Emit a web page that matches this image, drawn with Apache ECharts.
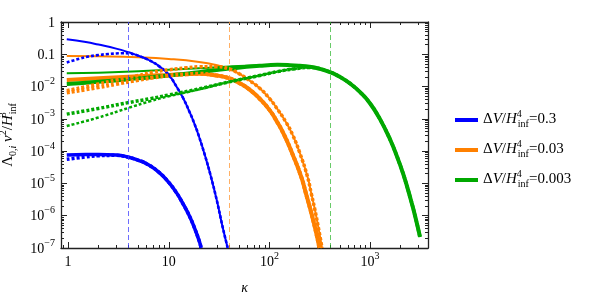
<!DOCTYPE html>
<html><head><meta charset="utf-8">
<script src="https://cdn.jsdelivr.net/npm/echarts@6/dist/echarts.min.js"></script>
<style>html,body{margin:0;padding:0;background:#fff}#c{width:590px;height:298px}</style>
</head><body><div id="c"></div>
<script>
// ---- ticks / labels ----
const xMajorTicks = [1, 10, 100, 1000];
const xTickLabels = ['1', '10', '10^2', '10^3'];
const xMinorTicks = [0.9, 2, 3, 4, 5, 6, 7, 8, 9, 20, 30, 40, 50, 60, 70, 80, 90, 200, 300, 400, 500, 600, 700, 800, 900, 2000, 3000];
const yMajorTicks = [1e-7, 1e-6, 1e-5, 1e-4, 1e-3, 1e-2, 0.1, 1];
const yTickLabels = ['10^-7', '10^-6', '10^-5', '10^-4', '10^-3', '10^-2', '0.1', '1'];
const yMinorMantissa = [2, 3, 4, 5, 6, 7, 8, 9];
const thresholdKappa = [4, 40, 400];
const legendValues = ['0.3', '0.03', '0.003'];

// ---- series data: [kappa, Lambda nu^2 / H^3] ----
const blueUpperSolid = [[0.97,0.29],[1.5,0.24],[2,0.2],[3,0.15],[4,0.115],[5,0.09],[6,0.072],[7,0.056],[8,0.043],[10,0.023],[12,0.0097],[14,0.0042],[16,0.0017],[18,7e-4],[20,2.8e-4],[23,7e-5],[26,1.8e-5],[30,3e-6],[34,5e-7],[38.5,1e-7]];
const blueUpperDotted = [[0.97,0.056],[1.3,0.073],[1.6,0.085],[2,0.095],[2.5,0.102],[3,0.106],[3.5,0.108],[4,0.107],[4.5,0.1],[5,0.09],[6,0.072],[7,0.056],[8,0.043],[10,0.023],[12,0.0097],[14,0.0042],[16,0.0017],[18,7e-4],[20,2.8e-4],[23,7e-5],[26,1.8e-5],[30,3e-6],[34,5e-7],[38.5,1e-7]];
const blueLowerSolid = [[0.97,7.6e-5],[1.5,7.9e-5],[2,7.9e-5],[3,7.6e-5],[4,6.5e-5],[5,5.2e-5],[6,4.1e-5],[8,2.2e-5],[10,1.07e-5],[12,5e-6],[14,2.2e-6],[16,1e-6],[18,4.2e-7],[20,1.7e-7],[21,1e-7]];
const blueLowerDotted = [[0.97,5.6e-5],[1.5,6.6e-5],[2,7.2e-5],[3,7.4e-5],[4,6.4e-5],[5,5.2e-5],[6,4.1e-5],[8,2.2e-5],[10,1.07e-5],[12,5e-6],[14,2.2e-6],[16,1e-6],[18,4.2e-7],[20,1.7e-7],[21,1e-7]];

const orangeUpperSolid = [[0.97,0.089],[2,0.087],[5,0.081],[10,0.072],[20,0.058],[30,0.046],[40,0.035],[50,0.025],[64,0.015],[80,0.0089],[100,0.0043],[120,0.002],[146,7.9e-4],[170,3.2e-4],[200,8.9e-5],[239,1.6e-5],[260,5e-6],[282,1.6e-6],[310,3.5e-7],[333,1e-7]];
const orangeUpperDotted = [[0.97,0.0075],[2,0.012],[3,0.016],[5,0.022],[7,0.028],[10,0.033],[15,0.038],[20,0.041],[30,0.041],[40,0.035],[50,0.025],[64,0.015],[80,0.0089],[100,0.0043],[120,0.002],[146,7.9e-4],[170,3.2e-4],[200,8.9e-5],[239,1.6e-5],[260,5e-6],[282,1.6e-6],[310,3.5e-7],[333,1e-7]];
const orangeLowerSolid = [[0.97,0.016],[2,0.018],[5,0.021],[10,0.023],[20,0.025],[30,0.022],[40,0.018],[50,0.013],[64,0.0079],[80,0.0042],[100,0.0019],[116,9.3e-4],[140,3.2e-4],[170,7.9e-5],[207,1.6e-5],[230,5e-6],[256,1.5e-6],[285,4e-7],[314,1e-7]];
const orangeLowerDotted = [[0.97,0.0065],[2,0.0095],[3,0.012],[5,0.016],[7,0.019],[10,0.022],[15,0.024],[20,0.025],[30,0.022],[40,0.018],[50,0.013],[64,0.0079],[80,0.0042],[100,0.0019],[116,9.3e-4],[140,3.2e-4],[170,7.9e-5],[207,1.6e-5],[230,5e-6],[256,1.5e-6],[285,4e-7],[314,1e-7]];

const greenUpperSolid = [[0.97,0.026],[2,0.027],[5,0.03],[10,0.033],[20,0.037],[40,0.042],[80,0.046],[120,0.047],[160,0.046],[200,0.044],[250,0.041],[300,0.037],[400,0.028],[500,0.02],[630,0.0125],[800,0.0066],[1000,0.003],[1250,0.001],[1580,2.3e-4],[1850,6.8e-5],[2140,1.9e-5],[2500,3.7e-6],[2800,9.8e-7],[3130,2.2e-7]];
const greenLowerSolid = [[0.97,0.012],[2,0.014],[5,0.018],[10,0.022],[20,0.028],[40,0.036],[80,0.044],[120,0.047],[160,0.046],[200,0.044],[250,0.041],[300,0.037],[400,0.028],[500,0.02],[630,0.0125],[800,0.0066],[1000,0.003],[1250,0.001],[1580,2.3e-4],[1850,6.8e-5],[2140,1.9e-5],[2500,3.7e-6],[2800,9.8e-7],[3130,2.2e-7]];
const greenUpperDotted = [[0.97,0.0014],[2,0.0021],[4,0.0032],[6.5,0.0042],[10,0.0055],[20,0.0085],[40,0.014],[80,0.022],[120,0.029],[172,0.035],[250,0.039],[300,0.037],[400,0.028],[500,0.02],[630,0.0125],[800,0.0066],[1000,0.003],[1250,0.001],[1580,2.3e-4],[1850,6.8e-5],[2140,1.9e-5],[2500,3.7e-6],[2800,9.8e-7],[3130,2.2e-7]];
const greenLowerDotted = [[0.97,0.0006],[2,0.0011],[4,0.0022],[6.5,0.0035],[10,0.005],[20,0.0082],[40,0.014],[80,0.022],[120,0.029],[172,0.035],[250,0.039],[300,0.037],[400,0.028],[500,0.02],[630,0.0125],[800,0.0066],[1000,0.003],[1250,0.001],[1580,2.3e-4],[1850,6.8e-5],[2140,1.9e-5],[2500,3.7e-6],[2800,9.8e-7],[3130,2.2e-7]];

// ---- styling ----
const BLUE = '#0000ff', ORANGE = '#ff8000', GREEN = '#00a800';
const DASH_COL = ['rgba(60,60,255,0.75)', 'rgba(255,150,50,0.75)', 'rgba(40,180,40,0.7)'];
const FONT = 'Liberation Serif';
const FRAME = '#222';

const yMinorTicks = [];
for (let e = -7; e < 0; e++) yMinorMantissa.forEach(m => yMinorTicks.push(m * Math.pow(10, e)));

function toRich(lbl) {
  const p = lbl.split('^');
  if (p.length === 1) return '{b|' + lbl + '}';
  return '{b|' + p[0] + '}{s|' + p[1].replace('-', '\u2212') + '}';
}
function labelFor(v, ticks, labels) {
  let best = 0, bd = Infinity;
  ticks.forEach((t, i) => { const d = Math.abs(Math.log10(t) - Math.log10(v)); if (d < bd) { bd = d; best = i; } });
  return toRich(labels[best]);
}
const tickRich = {
  b: { fontFamily: FONT, fontSize: 14, color: '#000', lineHeight: 16, verticalAlign: 'bottom' },
  s: { fontFamily: FONT, fontSize: 10, color: '#000', lineHeight: 10, padding: [0, 0, 8, 0], verticalAlign: 'bottom' }
};

const X_MIN = 0.85, X_MAX = 3760, Y_MIN = 1e-7, Y_MAX = 1;

function xAx(pos, ticks, len, labels, line) {
  return {
    type: 'log', logBase: 10, min: X_MIN, max: X_MAX, position: pos, gridIndex: 0,
    axisLine: { show: line, lineStyle: { color: FRAME, width: 1.3 } },
    axisTick: { show: true, inside: true, length: len, customValues: ticks, lineStyle: { color: FRAME, width: 1 } },
    axisLabel: labels ? { show: true, customValues: xMajorTicks, margin: 5, formatter: v => labelFor(v, xMajorTicks, xTickLabels), rich: tickRich } : { show: false },
    splitLine: { show: false }, minorTick: { show: false }
  };
}
function yAx(pos, ticks, len, labels, line) {
  return {
    type: 'log', logBase: 10, min: Y_MIN, max: Y_MAX, position: pos, gridIndex: 0,
    axisLine: { show: line, lineStyle: { color: FRAME, width: 1.3 } },
    axisTick: { show: true, inside: true, length: len, customValues: ticks, lineStyle: { color: FRAME, width: 1 } },
    axisLabel: labels ? { show: true, customValues: yMajorTicks, margin: 6, formatter: v => labelFor(v, yMajorTicks, yTickLabels), rich: tickRich } : { show: false },
    splitLine: { show: false }, minorTick: { show: false }
  };
}

const xAxes = [xAx('bottom', xMajorTicks, 6, true, true), xAx('bottom', xMinorTicks, 3, false, false), xAx('top', xMajorTicks, 6, false, true), xAx('top', xMinorTicks, 3, false, false)];
xAxes[0].name = '\u03ba';
xAxes[0].nameLocation = 'middle';
xAxes[0].nameGap = 33;
xAxes[0].nameTextStyle = { fontFamily: FONT, fontStyle: 'italic', fontSize: 14, color: '#000' };
const yAxes = [yAx('left', yMajorTicks, 6, true, true), yAx('left', yMinorTicks, 3, false, false), yAx('right', yMajorTicks, 6, false, true), yAx('right', yMinorTicks, 3, false, false)];
yAxes[0].name = '{g|\u039b}{sb|0,}{sbi|i}{g| }{it|\u03bd}{sp|2}{g|/}{it|H}{spw|3}{sb|inf}';
yAxes[0].nameLocation = 'middle';
yAxes[0].nameGap = 43;
yAxes[0].nameRotate = 90;
yAxes[0].nameTextStyle = {
  rich: {
    g: { fontFamily: FONT, fontSize: 15, color: '#000', lineHeight: 18, verticalAlign: 'bottom', padding: [0, 0, 2, 0] },
    it: { fontFamily: FONT, fontSize: 15, fontStyle: 'italic', color: '#000', lineHeight: 18, verticalAlign: 'bottom', padding: [0, 0, 2, 0] },
    sb: { fontFamily: FONT, fontSize: 10, color: '#000', lineHeight: 10, verticalAlign: 'bottom' },
    sbi: { fontFamily: FONT, fontSize: 10, fontStyle: 'italic', color: '#000', lineHeight: 10, verticalAlign: 'bottom' },
    sp: { fontFamily: FONT, fontSize: 10, color: '#000', lineHeight: 10, verticalAlign: 'bottom', padding: [0, 0, 10, 0] },
    spw: { fontFamily: FONT, fontSize: 10, color: '#000', lineHeight: 10, verticalAlign: 'bottom', padding: [0, 0, 10, 0], width: 1 }
  }
};

function mk(name, data, color, width, dotted, z) {
  return {
    type: 'line', name: name, data: data, xAxisIndex: 0, yAxisIndex: 0,
    showSymbol: false, symbol: 'none', smooth: 0.5, clip: true,
    lineStyle: { color: color, width: width, type: dotted ? [3, 2] : 'solid', cap: 'butt', join: 'round' },
    itemStyle: { color: color }, emphasis: { disabled: true }, z: z, animation: false
  };
}

const series = [
  mk('b', blueLowerSolid, BLUE, 3.5, false, 3),
  mk('blueUpperSolid', blueUpperSolid, BLUE, 2, false, 3),
  mk('o', orangeLowerSolid, ORANGE, 4, false, 2),
  mk('orangeUpperSolid', orangeUpperSolid, ORANGE, 2, false, 2),
  mk('g', greenLowerSolid, GREEN, 4, false, 2),
  mk('greenUpperSolid', greenUpperSolid, GREEN, 2, false, 2),
  mk('blueUpperDotted', blueUpperDotted, BLUE, 2.6, true, 4),
  mk('blueLowerDotted', blueLowerDotted, BLUE, 3.5, true, 4),
  mk('orangeUpperDotted', orangeUpperDotted, ORANGE, 3.5, true, 4),
  mk('orangeLowerDotted', orangeLowerDotted, ORANGE, 4, true, 4),
  mk('greenUpperDotted', greenUpperDotted, GREEN, 3.5, true, 4),
  mk('greenLowerDotted', greenLowerDotted, GREEN, 2.5, true, 4)
];
series.push({
  type: 'line', name: 'thresholds', data: [], xAxisIndex: 0, yAxisIndex: 0, silent: true, z: 1,
  markLine: {
    symbol: 'none', silent: true, animation: false, label: { show: false },
    data: thresholdKappa.map((k, i) => ({ xAxis: k, lineStyle: { color: DASH_COL[i], width: 1, type: [5, 3] } }))
  }
});

const legendNames = ['b', 'o', 'g'];
const option = {
  animation: false,
  backgroundColor: '#fff',
  grid: { left: 61, top: 22, width: 367, height: 226, containLabel: false, outerBoundsMode: 'none' },
  xAxis: xAxes,
  yAxis: yAxes,
  legend: {
    data: legendNames, orient: 'vertical', left: 450, top: 104, itemGap: 10,
    icon: 'rect', itemWidth: 23, itemHeight: 4, selectedMode: false,
    formatter: n => '{g|\u0394}{it|V}{g|/}{it|H}{sp|4}{sb|inf}{g|=' + legendValues[legendNames.indexOf(n)] + '}',
    textStyle: {
      rich: {
        g: { fontFamily: FONT, fontSize: 15, color: '#000', lineHeight: 18, verticalAlign: 'bottom', padding: [0, 0, 2, 0] },
        it: { fontFamily: FONT, fontSize: 15, fontStyle: 'italic', color: '#000', lineHeight: 18, verticalAlign: 'bottom', padding: [0, 0, 2, 0] },
        sb: { fontFamily: FONT, fontSize: 10, color: '#000', lineHeight: 10, verticalAlign: 'bottom' },
        sp: { fontFamily: FONT, fontSize: 10, color: '#000', lineHeight: 10, verticalAlign: 'bottom', padding: [0, 0, 10, 0], width: 1 }
      }
    }
  },
  series: series
};
const chart = echarts.init(document.getElementById('c'), null, { renderer: 'canvas' });
chart.setOption(option);
</script></body></html>
